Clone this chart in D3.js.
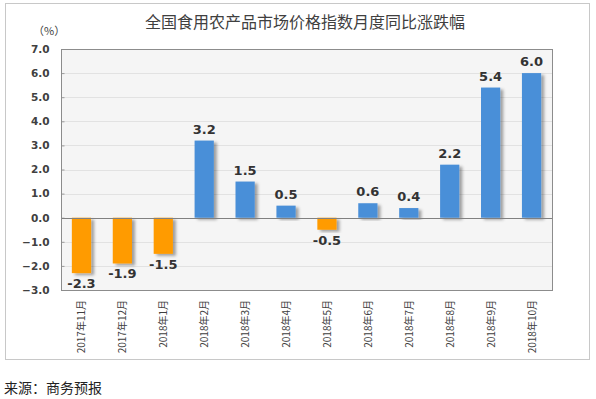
<!DOCTYPE html>
<html>
<head>
<meta charset="utf-8">
<script src="https://cdn.jsdelivr.net/npm/d3@7"></script>
<style>
  body { margin: 0; background: #fff; font-family: "Noto Sans CJK SC", "Noto Sans", sans-serif; }
</style>
</head>
<body>
<div id="chart"></div>
<script>
var width = 596;
var height = 399;

// data
var months = ['2017年11月', '2017年12月', '2018年1月', '2018年2月', '2018年3月', '2018年4月',
              '2018年5月', '2018年6月', '2018年7月', '2018年8月', '2018年9月', '2018年10月'];
var values = [-2.3, -1.9, -1.5, 3.2, 1.5, 0.5, -0.5, 0.6, 0.4, 2.2, 5.4, 6.0];
var yTicks = [7, 6, 5, 4, 3, 2, 1, 0, -1, -2, -3];

var blue = '#4a8fd8';
var orange = '#ff9b05';
var plot = {left: 61, right: 552, top: 49, bottom: 290};

var svg = d3.select('#chart')
            .append('svg')
            .attr('width', width)
            .attr('height', height);

// shadow for bars
var defs = svg.append('defs');
var f = defs.append('filter').attr('id', 'shadow')
            .attr('x', '-20%').attr('y', '-20%').attr('width', '160%').attr('height', '140%');
f.append('feDropShadow')
 .attr('dx', 3).attr('dy', 2).attr('stdDeviation', 1.5)
 .attr('flood-color', '#000').attr('flood-opacity', 0.35);

// outer frame
svg.append('rect')
   .attr('x', 5.5).attr('y', 3.5)
   .attr('width', 584).attr('height', 356)
   .attr('fill', '#fff')
   .attr('stroke', '#c8c8c8');

// title
svg.append('text')
   .attr('x', 305).attr('y', 28)
   .attr('text-anchor', 'middle')
   .attr('font-size', 16)
   .attr('fill', '#404040')
   .text('全国食用农产品市场价格指数月度同比涨跌幅');

svg.append('text')
   .attr('x', 33).attr('y', 35)
   .attr('font-size', 11)
   .attr('fill', '#404040')
   .text('（%）');

var x = d3.scaleBand()
          .domain(months)
          .range([plot.left, plot.right])
          .paddingInner(0.53)
          .paddingOuter(0.265);

var y = d3.scaleLinear()
          .domain([-3, 7])
          .range([plot.bottom, plot.top]);

// plot background
svg.append('rect')
   .attr('x', plot.left).attr('y', plot.top)
   .attr('width', plot.right - plot.left)
   .attr('height', plot.bottom - plot.top)
   .attr('fill', '#f5f5f5');

// gridlines
svg.append('g')
   .selectAll('line')
   .data(yTicks)
   .enter()
   .append('line')
   .attr('x1', plot.left).attr('x2', plot.right)
   .attr('y1', d => Math.round(y(d)) + 0.5)
   .attr('y2', d => Math.round(y(d)) + 0.5)
   .attr('stroke', '#e2e2e2');

// y axis
var yAxis = d3.axisLeft(y)
              .tickValues(yTicks)
              .tickFormat(d3.format('.1f'))
              .tickSize(-3)
              .tickPadding(12);

var gy = svg.append('g')
   .attr('transform', `translate(${plot.left + 0.5},0)`)
   .call(yAxis);
gy.select('.domain').remove();
gy.selectAll('line').attr('stroke', '#9a9a9a');
gy.selectAll('text')
  .attr('font-family', '"DejaVu Sans", sans-serif')
  .attr('font-size', 10.5)
  .attr('font-weight', 'bold')
  .attr('fill', '#404040');

// bars
svg.append('g')
   .selectAll('rect')
   .data(values)
   .enter()
   .append('rect')
   .attr('x', (d, i) => x(months[i]))
   .attr('y', d => y(Math.max(0, d)))
   .attr('width', x.bandwidth())
   .attr('height', d => Math.abs(y(d) - y(0)))
   .attr('fill', d => d < 0 ? orange : blue)
   .attr('filter', 'url(#shadow)');

// zero line
svg.append('line')
   .attr('x1', plot.left).attr('x2', plot.right)
   .attr('y1', Math.round(y(0)) + 0.5).attr('y2', Math.round(y(0)) + 0.5)
   .attr('stroke', '#808080');

// plot border
svg.append('rect')
   .attr('x', plot.left + 0.5).attr('y', plot.top + 0.5)
   .attr('width', plot.right - plot.left)
   .attr('height', plot.bottom - plot.top)
   .attr('fill', 'none')
   .attr('stroke', '#8c8c8c');

// value labels
svg.append('g')
   .selectAll('text')
   .data(values)
   .enter()
   .append('text')
   .attr('x', (d, i) => x(months[i]) + x.bandwidth() / 2)
   .attr('y', d => d < 0 ? y(d) + 15 : y(d) - 7)
   .attr('text-anchor', 'middle')
   .attr('font-family', '"DejaVu Sans", sans-serif')
   .attr('font-size', 13)
   .attr('font-weight', 'bold')
   .attr('fill', '#333')
   .text(d => d.toFixed(1));

// x labels (rotated)
svg.append('g')
   .selectAll('text')
   .data(months)
   .enter()
   .append('text')
   .attr('transform', d => `translate(${x(d) + x.bandwidth() / 2 + 4},300) rotate(-90)`)
   .attr('text-anchor', 'end')
   .attr('font-size', 10)
   .attr('fill', '#404040')
   .text(d => d);

// source
svg.append('text')
   .attr('x', 4).attr('y', 393)
   .attr('font-size', 14)
   .attr('fill', '#222')
   .text('来源：商务预报');
</script>
</body>
</html>
